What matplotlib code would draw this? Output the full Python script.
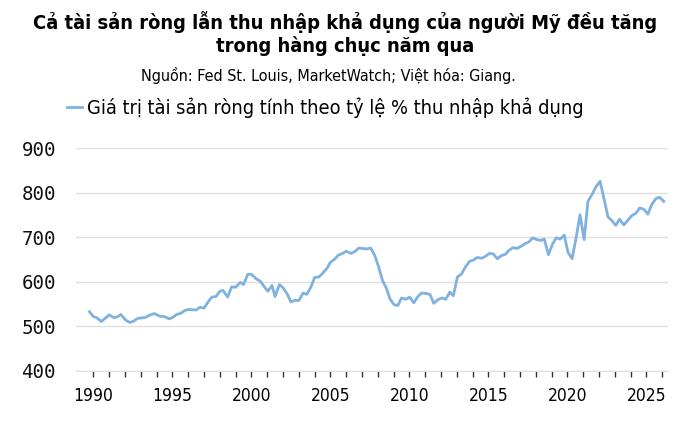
import numpy as np
import matplotlib.pyplot as plt
from matplotlib.ticker import FixedLocator

TITLE = "Cả tài sản ròng lẫn thu nhập khả dụng của người Mỹ đều tăng\ntrong hàng chục năm qua"
SOURCE = "Nguồn: Fed St. Louis, MarketWatch; Việt hóa: Giang."
SERIES_NAME = "Giá trị tài sản ròng tính theo tỷ lệ % thu nhập khả dụng"

# fractional year, value
years = [1989.75, 1990.0, 1990.2, 1990.5, 1991.0, 1991.27, 1991.5, 1991.73, 1992.05,
         1992.3, 1992.5, 1992.8, 1993.27, 1993.6, 1993.86, 1994.2, 1994.5, 1994.8,
         1995.0, 1995.28, 1995.5, 1995.8, 1996.0, 1996.5, 1996.75, 1997.0, 1997.3,
         1997.5, 1997.75, 1998.0, 1998.2, 1998.5, 1998.75, 1999.0, 1999.3, 1999.5,
         1999.77, 2000.0, 2000.3, 2000.55, 2000.8, 2001.04, 2001.3, 2001.5, 2001.77,
         2002.0, 2002.3, 2002.5, 2002.77, 2003.0, 2003.27, 2003.5, 2003.76, 2004.0,
         2004.27, 2004.5, 2004.77, 2005.0, 2005.27, 2005.5, 2005.77, 2006.0, 2006.3,
         2006.54, 2006.8, 2007.05, 2007.3, 2007.55, 2007.8, 2008.04, 2008.3, 2008.53,
         2008.78, 2009.03, 2009.27, 2009.5, 2009.77, 2010.02, 2010.28, 2010.53, 2010.78,
         2011.04, 2011.3, 2011.54, 2011.8, 2012.05, 2012.3, 2012.56, 2012.78, 2013.04,
         2013.3, 2013.54, 2013.8, 2014.05, 2014.3, 2014.56, 2014.8, 2015.06, 2015.3,
         2015.57, 2015.82, 2016.08, 2016.3, 2016.56, 2016.8, 2017.07, 2017.32, 2017.57,
         2017.8, 2018.06, 2018.32, 2018.54, 2018.8, 2019.05, 2019.29, 2019.54, 2019.8,
         2020.04, 2020.3, 2020.55, 2020.8, 2021.06, 2021.3, 2021.56, 2021.8, 2022.07,
         2022.32, 2022.57, 2022.83, 2023.06, 2023.3, 2023.57, 2023.82, 2024.08, 2024.33,
         2024.58, 2024.84, 2025.09, 2025.34, 2025.6, 2025.83, 2026.1]
values = [533, 522, 520, 511, 526, 520, 521, 527, 514,
          509, 511, 518, 520, 526, 529, 523, 522, 517,
          520, 527, 529, 536, 538, 537, 543, 541, 557,
          566, 567, 579, 581, 566, 589, 588, 599, 594,
          617, 617, 607, 602, 590, 579, 592, 567, 594,
          587, 571, 555, 559, 558, 575, 572, 588, 610,
          611, 619, 630, 644, 651, 660, 664, 669, 664,
          668, 676, 675, 674, 676, 660, 635, 603, 587,
          561, 549, 547, 564, 561, 566, 553, 567, 575,
          574, 572, 552, 560, 564, 561, 577, 569, 611,
          618, 633, 646, 649, 655, 653, 657, 664, 663,
          652, 659, 662, 671, 677, 675, 680, 686, 690,
          699, 695, 693, 696, 661, 684, 699, 696, 705,
          666, 652, 699, 751, 695, 781, 796, 813, 826,
          786, 746, 737, 727, 741, 728, 738, 749, 754,
          766, 763, 752, 774, 787, 790, 781]

x_labels = [1990, 1995, 2000, 2005, 2010, 2015, 2020, 2025]
y_ticks = [400, 500, 600, 700, 800, 900]

plt.rcParams['font.family'] = ['DejaVu Sans']
plt.rcParams['font.stretch'] = 'condensed'

fig = plt.figure(figsize=(6.95, 4.22), dpi=100)
ax = fig.add_axes([0.1094, 0.1209, 0.8518, 0.5277])

line, = ax.plot(years, values, color='#7fb2e0', lw=2.0, solid_joinstyle='round')

ax.set_xlim(1988.9, 2026.37)
ax.set_ylim(400, 900)
ax.set_yticks(y_ticks)
ax.yaxis.grid(True, color='#e0e0e0', lw=1)
ax.set_axisbelow(True)
ax.tick_params(axis='y', length=0, pad=14.4, labelsize=13.8)
for lab in ax.get_yticklabels():
    lab.set_family('DejaVu Sans Mono')
    lab.set_stretch('normal')
    lab.set_color('#111111')

ax.xaxis.set_major_locator(FixedLocator(x_labels))
ax.xaxis.set_minor_locator(FixedLocator(list(range(1990, 2027))))
ax.tick_params(axis='x', which='both', length=4, width=1, color='#333333',
               labelsize=12.5, pad=7.5)
for s in ['top', 'right', 'left']:
    ax.spines[s].set_visible(False)
ax.spines['bottom'].set_color('#e0e0e0')

fig.text(0.497, 0.921, TITLE, ha='center', va='center', fontsize=14.4,
         fontweight='bold', linespacing=1.22)
fig.text(0.472, 0.82, SOURCE, ha='center', va='center', fontsize=11.5)
fig.legend([line], [SERIES_NAME], loc='center left', bbox_to_anchor=(0.096, 0.745),
           frameon=False, fontsize=14.3, handlelength=0.75, handletextpad=0.25,
           borderaxespad=0, borderpad=0)

fig.savefig('out.png', dpi=100)
